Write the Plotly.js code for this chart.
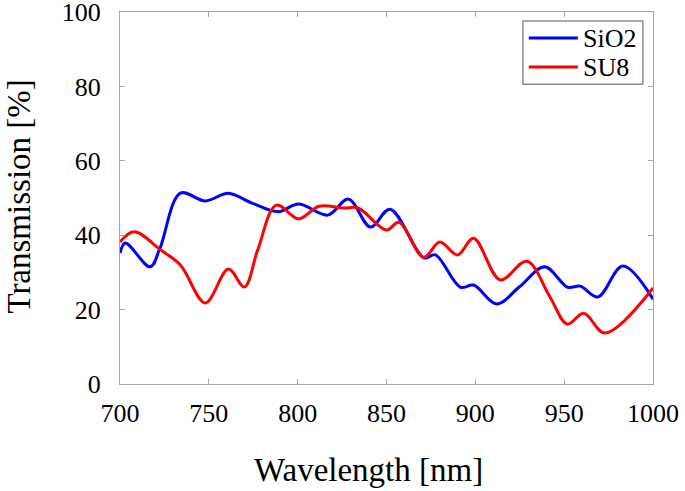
<!DOCTYPE html>
<html>
<head>
<meta charset="utf-8">
<script src="https://cdn.plot.ly/plotly-3.0.1.min.js"></script>
<style>html,body{margin:0;padding:0;background:#fff;}#chart{width:685px;height:491px;}</style>
</head>
<body>
<div id="chart"></div>
<script>
// SiO2 series
const sio2Wavelength = [700, 703, 717, 722.5, 734, 748, 761, 774, 789, 800.5, 817, 828.6, 841, 852, 871, 877.5, 891.6, 899, 912, 925, 939, 952, 959, 969, 983, 1000];
const sio2Transmission = [35.2, 37.9, 31.5, 36.5, 51.3, 49.2, 51.3, 48.7, 46.3, 48.4, 45.4, 49.7, 42.2, 47, 33.9, 34.7, 26, 26.6, 21.5, 26.2, 31.5, 26, 26.3, 23.4, 31.7, 22.8];
// SU8 series
const su8Wavelength = [700, 708, 723, 734, 748, 761, 770, 777.5, 788, 800.5, 812, 826, 834, 850, 857, 871, 880, 890, 899, 914, 929, 942, 951.7, 961, 973, 1000];
const su8Transmission = [38.2, 40.9, 36, 32, 21.8, 30.9, 26.1, 36, 48.1, 44.4, 47.8, 47.3, 47.3, 41.4, 43.5, 34.1, 38.2, 34.7, 39.2, 28, 33, 23.4, 16.1, 19, 13.7, 25.8];
// axis ticks
const xTicks = [700, 750, 800, 850, 900, 950, 1000];
const yTicks = [0, 20, 40, 60, 80, 100];
// legend entries
const seriesNames = ['SiO2', 'SU8'];
const seriesColors = ['#0000ff', '#ff0000'];

const serif = '"Liberation Serif", "Times New Roman", serif';
const axisCommon = {
  showline: true, linecolor: '#a6a6a6', linewidth: 1, mirror: 'ticks',
  ticks: 'inside', ticklen: 5, tickcolor: '#a6a6a6', tickwidth: 1,
  showgrid: false, zeroline: false, ticklabeloverflow: 'allow',
  tickfont: {family: serif, size: 26, color: '#000'}
};

const data = [
  {x: sio2Wavelength, y: sio2Transmission, name: seriesNames[0], mode: 'lines',
   line: {color: seriesColors[0], width: 3, shape: 'spline'}},
  {x: su8Wavelength, y: su8Transmission, name: seriesNames[1], mode: 'lines',
   line: {color: seriesColors[1], width: 3, shape: 'spline'}}
];

// manual legend (paper coordinates)
const legRowsY = [0.930, 0.852];
const shapes = [
  {type: 'rect', xref: 'paper', yref: 'paper', x0: 0.756, x1: 0.981, y0: 0.806, y1: 0.976,
   line: {color: '#8c8c8c', width: 1.5}, fillcolor: '#fff', layer: 'above'}
];
const annotations = [
  {text: 'Wavelength [nm]', xref: 'paper', yref: 'paper', x: 0.466, y: -0.1765,
   xanchor: 'center', yanchor: 'top', showarrow: false,
   font: {family: serif, size: 33, color: '#000'}},
  {text: 'Transmission [%]', xref: 'paper', yref: 'paper', x: -0.19, y: 0.503,
   xanchor: 'center', yanchor: 'middle', showarrow: false, textangle: -90,
   font: {family: serif, size: 33, color: '#000'}}
];
seriesNames.forEach((nm, i) => {
  shapes.push({type: 'line', xref: 'paper', yref: 'paper', x0: 0.767, x1: 0.859,
    y0: legRowsY[i], y1: legRowsY[i], line: {color: seriesColors[i], width: 3}, layer: 'above'});
  annotations.push({text: nm, xref: 'paper', yref: 'paper', x: 0.864, y: legRowsY[i],
    xanchor: 'left', yanchor: 'middle', showarrow: false,
    font: {family: serif, size: 26, color: '#000'}});
});

const layout = {
  width: 685, height: 491,
  margin: {l: 120, r: 32, t: 12, b: 107},
  paper_bgcolor: '#fff', plot_bgcolor: '#fff',
  showlegend: false,
  xaxis: Object.assign({}, axisCommon, {
    range: [700, 1000], tickvals: xTicks, ticktext: xTicks.map(String),
    ticklabelstandoff: 6
  }),
  yaxis: Object.assign({}, axisCommon, {
    range: [0, 100], tickvals: yTicks, ticktext: yTicks.map(String),
    ticklabelstandoff: 13
  }),
  shapes: shapes,
  annotations: annotations
};

Plotly.newPlot('chart', data, layout, {displayModeBar: false, staticPlot: true});
</script>
</body>
</html>
